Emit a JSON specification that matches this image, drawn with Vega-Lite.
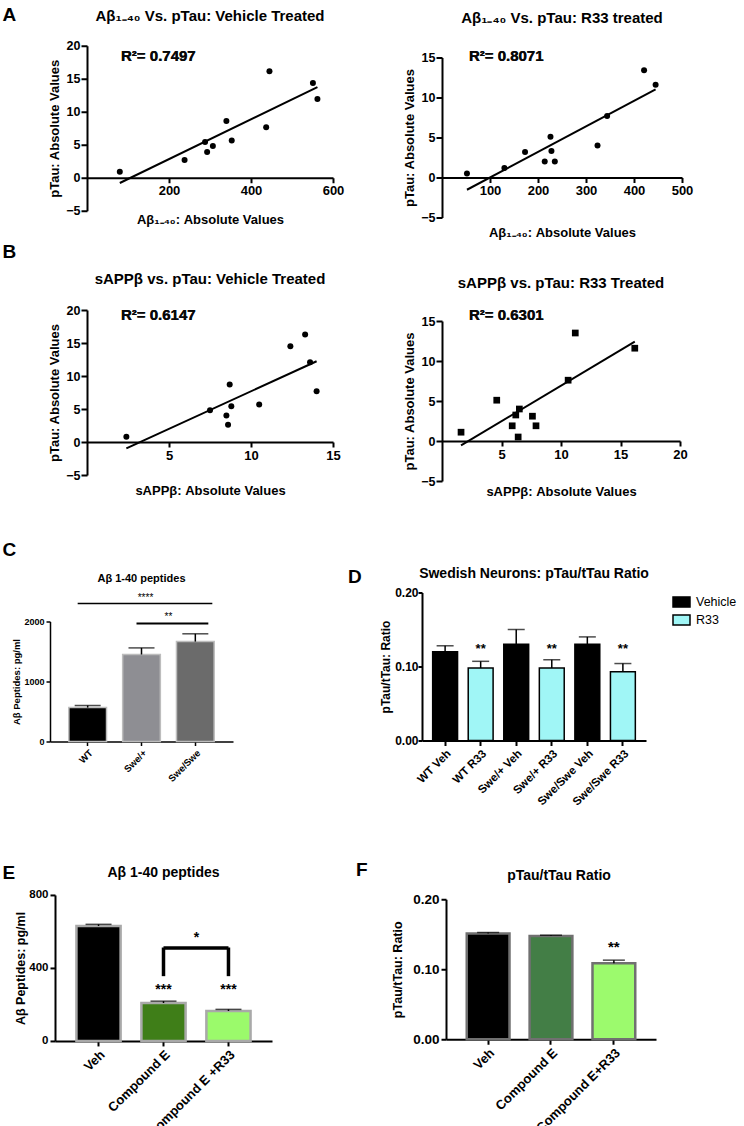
{
"$schema": "https://vega.github.io/schema/vega-lite/v6.json",
"background": "white",
"padding": {"left": 2, "top": 5, "right": 0, "bottom": 0},
"datasets": {
 "a1": [{"x":80,"y":0.9},{"x":238,"y":2.7},{"x":288,"y":5.4},{"x":293,"y":3.9},{"x":307,"y":4.8},{"x":340,"y":8.6},{"x":353,"y":5.65},{"x":437,"y":7.65},{"x":445,"y":16.15},{"x":551,"y":14.35},{"x":562,"y":11.95}],
 "a2": [{"x":52,"y":0.5},{"x":130,"y":1.2},{"x":173,"y":3.2},{"x":214,"y":2.0},{"x":226,"y":5.1},{"x":228,"y":3.3},{"x":235,"y":2.0},{"x":324,"y":4.0},{"x":344,"y":7.7},{"x":421,"y":13.4},{"x":445,"y":11.6}],
 "b1": [{"x":13.3,"y":16.3},{"x":12.4,"y":14.5},{"x":13.6,"y":12.1},{"x":8.7,"y":8.7},{"x":14.0,"y":7.7},{"x":10.5,"y":5.7},{"x":8.8,"y":5.4},{"x":7.5,"y":4.8},{"x":8.5,"y":4.0},{"x":8.6,"y":2.6},{"x":2.4,"y":0.8}],
 "b2": [{"x":11.2,"y":13.5},{"x":16.2,"y":11.6},{"x":10.6,"y":7.6},{"x":4.6,"y":5.1},{"x":6.5,"y":4.0},{"x":6.2,"y":3.25},{"x":7.6,"y":3.1},{"x":5.9,"y":1.9},{"x":7.9,"y":1.9},{"x":1.6,"y":1.1},{"x":6.4,"y":0.5}],
 "c": [{"g":"WT","v":565,"hi":600},{"g":"Swe/+","v":1450,"hi":1560},{"g":"Swe/Swe","v":1665,"hi":1795}],
 "d": [{"g":"WT Veh","t":"Vehicle","v":0.120,"hi":0.128,"sig":""},{"g":"WT R33","t":"R33","v":0.098,"hi":0.107,"sig":"**"},{"g":"Swe/+ Veh","t":"Vehicle","v":0.130,"hi":0.150,"sig":""},{"g":"Swe/+ R33","t":"R33","v":0.098,"hi":0.109,"sig":"**"},{"g":"Swe/Swe Veh","t":"Vehicle","v":0.130,"hi":0.140,"sig":""},{"g":"Swe/Swe R33","t":"R33","v":0.093,"hi":0.104,"sig":"**"}],
 "e": [{"g":"Veh","v":630,"hi":639,"sig":""},{"g":"Compound E","v":208,"hi":218,"sig":"***"},{"g":"Compound  E +R33","v":164,"hi":173,"sig":"***"}],
 "f": [{"g":"Veh","v":0.151,"hi":0.1525,"sig":""},{"g":"Compound E","v":0.1476,"hi":0.1486,"sig":""},{"g":"Compound E+R33","v":0.1086,"hi":0.113,"sig":"**"}]
},
"spacing": 42.5,
"resolve": {"scale": {"fill": "independent"}, "legend": {"fill": "independent"}},
"vconcat": [
 {"spacing": 2, "vconcat": [
  {"spacing": 31, "hconcat": [
   {"width": 1, "height": 1, "data": {"values": [{}]}, "mark": {"type": "text", "text": "A", "fontSize": 19, "fontWeight": "bold", "align": "left", "baseline": "alphabetic", "color": "#000"}},
   {"spacing": 59, "hconcat": [
    {"spacing": 15.75, "vconcat": [
     {"width": 246, "height": 1, "data": {"values": [{}]}, "mark": {"type": "text", "text": "Aβ₁₋₄₀ Vs. pTau: Vehicle Treated", "fontSize": 15, "fontWeight": "bold", "baseline": "alphabetic", "color": "#000"}},
     {"width": 246, "height": 165,
      "data": {"name": "a1"},
      "encoding": {
       "x": {"field": "x", "type": "quantitative", "scale": {"domain": [0, 600], "nice": false}, "axis": {"values": [200, 400, 600], "offset": -33, "title": "Aβ₁₋₄₀: Absolute Values", "titleFontSize": 13, "labelFontSize": 13, "titlePadding": 16, "tickSize": 5, "labelPadding": 2}},
       "y": {"field": "y", "type": "quantitative", "scale": {"domain": [-5, 20], "nice": false}, "axis": {"values": [-5, 0, 5, 10, 15, 20], "title": "pTau: Absolute Values", "titleFontSize": 13, "labelFontSize": 12.5, "titlePadding": 4, "tickSize": 6, "labelPadding": 1}}
      },
      "layer": [
       {"mark": {"type": "point", "filled": true, "color": "#000", "size": 36, "opacity": 1}},
       {"transform": [{"regression": "y", "on": "x"}], "mark": {"type": "line", "color": "#000", "strokeWidth": 2}},
       {"mark": {"type": "text", "fontSize": 15, "fontWeight": "bold", "align": "left", "baseline": "middle", "color": "#000", "opacity": 0.25}, "encoding": {"x": {"datum": 83}, "y": {"datum": 18.5}, "text": {"value": "R²= 0.7497"}}}
      ]}
    ]},
    {"spacing": 22.5, "vconcat": [
     {"width": 240, "height": 5, "data": {"values": [{}]}, "mark": {"type": "text", "text": "Aβ₁₋₄₀ Vs. pTau: R33 treated", "fontSize": 15, "fontWeight": "bold", "baseline": "alphabetic", "color": "#000"}},
     {"width": 240, "height": 160,
      "data": {"name": "a2"},
      "encoding": {
       "x": {"field": "x", "type": "quantitative", "scale": {"domain": [0, 500], "nice": false}, "axis": {"values": [100, 200, 300, 400, 500], "offset": -40, "title": "Aβ₁₋₄₀: Absolute Values", "titleFontSize": 13, "labelFontSize": 13, "titlePadding": 29, "tickSize": 5, "labelPadding": 2}},
       "y": {"field": "y", "type": "quantitative", "scale": {"domain": [-5, 15], "nice": false}, "axis": {"values": [-5, 0, 5, 10, 15], "title": "pTau: Absolute Values", "titleFontSize": 13, "labelFontSize": 12.5, "titlePadding": 4, "tickSize": 6, "labelPadding": 1}}
      },
      "layer": [
       {"mark": {"type": "point", "filled": true, "color": "#000", "size": 36, "opacity": 1}},
       {"transform": [{"regression": "y", "on": "x"}], "mark": {"type": "line", "color": "#000", "strokeWidth": 2}},
       {"mark": {"type": "text", "fontSize": 15, "fontWeight": "bold", "align": "left", "baseline": "middle", "color": "#000", "opacity": 0.25}, "encoding": {"x": {"datum": 56}, "y": {"datum": 15.25}, "text": {"value": "R²= 0.8071"}}}
      ]}
    ]}
   ]}
  ]},
  {"spacing": 31, "hconcat": [
   {"width": 1, "height": 1, "data": {"values": [{}]}, "mark": {"type": "text", "text": "B", "fontSize": 19, "fontWeight": "bold", "align": "left", "baseline": "alphabetic", "color": "#000"}},
   {"spacing": 62, "hconcat": [
    {"spacing": -6.75, "vconcat": [
     {"width": 246, "height": 53, "data": {"values": [{}]}, "mark": {"type": "text", "text": "sAPPβ vs. pTau: Vehicle Treated", "fontSize": 15, "fontWeight": "bold", "baseline": "alphabetic", "color": "#000"}},
     {"width": 246, "height": 165,
      "data": {"name": "b1"},
      "encoding": {
       "x": {"field": "x", "type": "quantitative", "scale": {"domain": [0, 15], "nice": false}, "axis": {"values": [5, 10, 15], "offset": -33, "title": "sAPPβ: Absolute Values", "titleFontSize": 13, "labelFontSize": 13, "titlePadding": 22, "tickSize": 5, "labelPadding": 2}},
       "y": {"field": "y", "type": "quantitative", "scale": {"domain": [-5, 20], "nice": false}, "axis": {"values": [-5, 0, 5, 10, 15, 20], "title": "pTau: Absolute Values", "titleFontSize": 13, "labelFontSize": 12.5, "titlePadding": 4, "tickSize": 6, "labelPadding": 1}}
      },
      "layer": [
       {"mark": {"type": "point", "filled": true, "color": "#000", "size": 36, "opacity": 1}},
       {"transform": [{"regression": "y", "on": "x"}], "mark": {"type": "line", "color": "#000", "strokeWidth": 2}},
       {"mark": {"type": "text", "fontSize": 15, "fontWeight": "bold", "align": "left", "baseline": "middle", "color": "#000", "opacity": 0.25}, "encoding": {"x": {"datum": 2.07}, "y": {"datum": 19.2}, "text": {"value": "R²= 0.6147"}}}
      ]}
    ]},
    {"spacing": -12, "vconcat": [
     {"width": 238, "height": 62, "data": {"values": [{}]}, "mark": {"type": "text", "text": "sAPPβ vs. pTau: R33 Treated", "fontSize": 15, "fontWeight": "bold", "baseline": "alphabetic", "color": "#000"}},
     {"width": 238, "height": 160,
      "data": {"name": "b2"},
      "encoding": {
       "x": {"field": "x", "type": "quantitative", "scale": {"domain": [0, 20], "nice": false}, "axis": {"values": [5, 10, 15, 20], "offset": -40, "title": "sAPPβ: Absolute Values", "titleFontSize": 13, "labelFontSize": 13, "titlePadding": 24, "tickSize": 5, "labelPadding": 2}},
       "y": {"field": "y", "type": "quantitative", "scale": {"domain": [-5, 15], "nice": false}, "axis": {"values": [-5, 0, 5, 10, 15], "title": "pTau: Absolute Values", "titleFontSize": 13, "labelFontSize": 12.5, "titlePadding": 4, "tickSize": 6, "labelPadding": 1}}
      },
      "layer": [
       {"mark": {"type": "point", "shape": "square", "filled": true, "color": "#000", "size": 45, "opacity": 1}},
       {"transform": [{"regression": "y", "on": "x"}], "mark": {"type": "line", "color": "#000", "strokeWidth": 2}},
       {"mark": {"type": "text", "fontSize": 15, "fontWeight": "bold", "align": "left", "baseline": "middle", "color": "#000", "opacity": 0.25}, "encoding": {"x": {"datum": 2.27}, "y": {"datum": 15.75}, "text": {"value": "R²= 0.6301"}}}
      ]}
    ]}
   ]}
  ]}
 ]},
 {"spacing": 52,
  "resolve": {"scale": {"fill": "independent"}, "legend": {"fill": "independent"}},
  "vconcat": [
  {"spacing": -6,
   "resolve": {"scale": {"fill": "independent"}, "legend": {"fill": "independent"}},
   "hconcat": [
   {"width": 1, "height": 1, "data": {"values": [{}]}, "mark": {"type": "text", "text": "C", "fontSize": 19, "fontWeight": "bold", "align": "left", "baseline": "alphabetic", "color": "#000"}},
   {"spacing": 114.5,
    "resolve": {"scale": {"fill": "independent"}, "legend": {"fill": "independent"}},
    "hconcat": [
    {"spacing": -17,
     "resolve": {"scale": {"fill": "independent"}, "legend": {"fill": "independent"}},
     "vconcat": [
     {"width": 183, "height": 53, "data": {"values": [{}]}, "mark": {"type": "text", "text": "Aβ 1-40 peptides", "fontSize": 11, "fontWeight": "bold", "baseline": "alphabetic", "color": "#000"}},
     {"width": 183, "height": 120,
      "data": {"name": "c"},
      "encoding": {"x": {"field": "g", "type": "nominal", "sort": null, "scale": {"domain": ["WT", "Swe/+", "Swe/Swe"], "paddingInner": 0.3, "paddingOuter": 0.35}, "axis": {"title": null, "labelAngle": -45, "labelFontSize": 9.5, "tickSize": 4, "domainWidth": 1.5, "tickWidth": 1.5, "labelPadding": 2}}},
      "layer": [
       {"mark": {"type": "bar", "stroke": "#bdbdbd", "strokeWidth": 1.5}, "encoding": {"y": {"field": "v", "type": "quantitative", "scale": {"domain": [0, 2000], "nice": false}, "axis": {"values": [0, 500, 1000, 1500, 2000], "format": "d", "title": "Aβ Peptides: pg/ml", "titleFontSize": 9.5, "labelFontSize": 9, "domainWidth": 1.5, "tickWidth": 1.5, "tickSize": 4, "titlePadding": 2}}, "fill": {"field": "g", "type": "nominal", "scale": {"domain": ["WT", "Swe/+", "Swe/Swe"], "range": ["#000000", "#8e8e93", "#6b6b6b"]}, "legend": null}}},
       {"mark": {"type": "rule", "color": "#000", "strokeWidth": 1.5}, "encoding": {"y": {"field": "v", "type": "quantitative"}, "y2": {"field": "hi"}}},
       {"mark": {"type": "tick", "color": "#000", "thickness": 1.5, "size": 26}, "encoding": {"y": {"field": "hi", "type": "quantitative"}}},
       {"data": {"values": [{"a": "WT", "b": "Swe/Swe", "y": 2300}]}, "mark": {"type": "rule", "color": "#000", "strokeWidth": 1.5, "xOffset": -10, "x2Offset": 17}, "encoding": {"x": {"field": "a", "type": "nominal"}, "x2": {"field": "b"}, "y": {"field": "y", "type": "quantitative"}}},
       {"data": {"values": [{"a": "Swe/+", "b": "Swe/Swe", "y": 1967}]}, "mark": {"type": "rule", "color": "#000", "strokeWidth": 2, "xOffset": -5, "x2Offset": 13}, "encoding": {"x": {"field": "a", "type": "nominal"}, "x2": {"field": "b"}, "y": {"field": "y", "type": "quantitative"}}},
       {"data": {"values": [{"a": "Swe/+", "y": 2350, "s": "****"}]}, "mark": {"type": "text", "fontSize": 10, "color": "#000", "dx": 4, "baseline": "alphabetic"}, "encoding": {"x": {"field": "a", "type": "nominal"}, "y": {"field": "y", "type": "quantitative"}, "text": {"field": "s"}}},
       {"data": {"values": [{"a": "Swe/+", "y": 2017, "s": "**"}]}, "mark": {"type": "text", "fontSize": 10, "color": "#000", "dx": 27, "baseline": "alphabetic"}, "encoding": {"x": {"field": "a", "type": "nominal"}, "y": {"field": "y", "type": "quantitative"}, "text": {"field": "s"}}}
      ]}
    ]},
    {"spacing": 16.5,
     "resolve": {"scale": {"fill": "independent"}, "legend": {"fill": "independent"}},
     "hconcat": [
     {"width": 1, "height": 55, "data": {"values": [{}]}, "mark": {"type": "text", "text": "D", "fontSize": 19, "fontWeight": "bold", "align": "left", "baseline": "alphabetic", "color": "#000"}},
     {"spacing": -6,
      "resolve": {"scale": {"fill": "independent"}, "legend": {"fill": "independent"}},
      "vconcat": [
      {"width": 224, "height": 36.5, "data": {"values": [{}]}, "mark": {"type": "text", "text": "Swedish Neurons: pTau/tTau Ratio", "fontSize": 14, "fontWeight": "bold", "baseline": "middle", "color": "#000"}},
      {"width": 224, "height": 148,
       "data": {"name": "d"},
       "encoding": {"x": {"field": "g", "type": "nominal", "sort": null, "scale": {"domain": ["WT Veh", "WT R33", "Swe/+ Veh", "Swe/+ R33", "Swe/Swe Veh", "Swe/Swe R33"], "paddingInner": 0.3, "paddingOuter": 0.3}, "axis": {"title": null, "labelAngle": -45, "labelFontSize": 11.5, "tickSize": 5, "labelPadding": 2}}},
       "layer": [
        {"mark": {"type": "bar", "stroke": "#000", "strokeWidth": 1.5}, "encoding": {"y": {"field": "v", "type": "quantitative", "scale": {"domain": [0, 0.2], "nice": false}, "axis": {"values": [0, 0.05, 0.1, 0.15, 0.2], "format": ".2f", "title": "pTau/tTau: Ratio", "titleFontSize": 12, "labelFontSize": 12, "tickSize": 4, "labelPadding": 0, "titlePadding": 2}}, "fill": {"field": "t", "type": "nominal", "scale": {"domain": ["Vehicle", "R33"], "range": ["#000000", "#a0f6f6"]}, "legend": {"title": null, "orient": "right", "offset": 26, "symbolType": "M-1,-0.6H1V0.6H-1Z", "symbolSize": 289, "symbolStrokeColor": "#000", "symbolStrokeWidth": 1.5, "labelFontSize": 12.5, "labelColor": "#000", "labelFont": "Liberation Sans", "rowPadding": 0, "labelOffset": 5}}}},
        {"mark": {"type": "rule", "color": "#000", "strokeWidth": 1.5}, "encoding": {"y": {"field": "v", "type": "quantitative"}, "y2": {"field": "hi"}}},
        {"mark": {"type": "tick", "color": "#000", "thickness": 1.5, "size": 17}, "encoding": {"y": {"field": "hi", "type": "quantitative"}}},
        {"mark": {"type": "text", "fontSize": 13, "fontWeight": "bold", "color": "#000", "baseline": "alphabetic"}, "encoding": {"y": {"datum": 0.118}, "text": {"field": "sig"}}}
       ]}
     ]}
    ]}
   ]}
  ]},
  {"spacing": -2,
   "resolve": {"scale": {"fill": "independent"}, "legend": {"fill": "independent"}},
   "hconcat": [
   {"width": 1, "height": 7, "data": {"values": [{}]}, "mark": {"type": "text", "text": "E", "fontSize": 19, "fontWeight": "bold", "align": "left", "baseline": "alphabetic", "color": "#000"}},
   {"spacing": 83.5,
    "resolve": {"scale": {"fill": "independent"}, "legend": {"fill": "independent"}},
    "hconcat": [
    {"spacing": 8.45,
     "resolve": {"scale": {"fill": "independent"}, "legend": {"fill": "independent"}},
     "vconcat": [
     {"width": 217, "height": 3, "data": {"values": [{}]}, "mark": {"type": "text", "text": "Aβ 1-40 peptides", "fontSize": 14, "fontWeight": "bold", "baseline": "alphabetic", "color": "#000"}},
     {"width": 217, "height": 146,
      "data": {"name": "e"},
      "encoding": {"x": {"field": "g", "type": "nominal", "sort": null, "scale": {"domain": ["Veh", "Compound E", "Compound  E +R33"], "paddingInner": 0.32, "paddingOuter": 0.33}, "axis": {"title": null, "labelAngle": -45, "labelFontSize": 13, "tickSize": 5, "labelPadding": 2}}},
      "layer": [
       {"mark": {"type": "bar", "stroke": "#a9a9a9", "strokeWidth": 2.5}, "encoding": {"y": {"field": "v", "type": "quantitative", "scale": {"domain": [0, 800], "nice": false}, "axis": {"values": [0, 200, 400, 600, 800], "title": "Aβ Peptides: pg/ml", "titleFontSize": 12.5, "labelFontSize": 11.5, "tickSize": 5, "titlePadding": 1}}, "fill": {"field": "g", "type": "nominal", "scale": {"domain": ["Veh", "Compound E", "Compound  E +R33"], "range": ["#000000", "#3f7e18", "#9bfa6b"]}, "legend": null}}},
       {"mark": {"type": "rule", "color": "#000", "strokeWidth": 1.5}, "encoding": {"y": {"field": "v", "type": "quantitative"}, "y2": {"field": "hi"}}},
       {"mark": {"type": "tick", "color": "#000", "thickness": 1.5, "size": 26}, "encoding": {"y": {"field": "hi", "type": "quantitative"}}},
       {"mark": {"type": "text", "fontSize": 14, "fontWeight": "bold", "color": "#000", "baseline": "alphabetic"}, "encoding": {"y": {"datum": 257}, "text": {"field": "sig"}}},
       {"data": {"values": [{"a": "Compound E", "lo": 355, "hi": 512}, {"a": "Compound  E +R33", "lo": 355, "hi": 512}]}, "mark": {"type": "rule", "color": "#000", "strokeWidth": 3.5}, "encoding": {"x": {"field": "a", "type": "nominal"}, "y": {"field": "lo", "type": "quantitative"}, "y2": {"field": "hi"}}},
       {"data": {"values": [{"a": "Compound E", "b": "Compound  E +R33", "y": 510}]}, "mark": {"type": "rule", "color": "#000", "strokeWidth": 3.5}, "encoding": {"x": {"field": "a", "type": "nominal"}, "x2": {"field": "b"}, "y": {"field": "y", "type": "quantitative"}}},
       {"data": {"values": [{"a": "Compound E", "y": 540, "s": "*"}]}, "mark": {"type": "text", "fontSize": 14, "fontWeight": "bold", "color": "#000", "dx": 33, "baseline": "alphabetic"}, "encoding": {"x": {"field": "a", "type": "nominal"}, "y": {"field": "y", "type": "quantitative"}, "text": {"field": "s"}}}
      ]}
    ]},
    {"spacing": 22.5,
     "resolve": {"scale": {"fill": "independent"}, "legend": {"fill": "independent"}},
     "hconcat": [
     {"width": 1, "height": 1, "data": {"values": [{}]}, "mark": {"type": "text", "text": "F", "fontSize": 19, "fontWeight": "bold", "align": "left", "baseline": "alphabetic", "color": "#000"}},
     {"spacing": 7.75,
      "resolve": {"scale": {"fill": "independent"}, "legend": {"fill": "independent"}},
      "vconcat": [
      {"width": 226, "height": 9, "data": {"values": [{}]}, "mark": {"type": "text", "text": "pTau/tTau Ratio", "fontSize": 14, "fontWeight": "bold", "baseline": "alphabetic", "color": "#000"}},
      {"width": 210, "height": 140,
       "data": {"name": "f"},
       "encoding": {"x": {"field": "g", "type": "nominal", "sort": null, "scale": {"domain": ["Veh", "Compound E", "Compound E+R33"], "paddingInner": 0.32, "paddingOuter": 0.33}, "axis": {"title": null, "labelAngle": -45, "labelFontSize": 13, "tickSize": 5, "labelPadding": 2}}},
       "layer": [
        {"mark": {"type": "bar", "stroke": "#707070", "strokeWidth": 2.5}, "encoding": {"y": {"field": "v", "type": "quantitative", "scale": {"domain": [0, 0.2], "nice": false}, "axis": {"values": [0, 0.05, 0.1, 0.15, 0.2], "format": ".2f", "title": "pTau/tTau: Ratio", "titleFontSize": 12.5, "labelFontSize": 13.5, "tickSize": 5, "titlePadding": 8}}, "fill": {"field": "g", "type": "nominal", "scale": {"domain": ["Veh", "Compound E", "Compound E+R33"], "range": ["#000000", "#437e46", "#9cfa6d"]}, "legend": null}}},
        {"mark": {"type": "rule", "color": "#000", "strokeWidth": 1.5}, "encoding": {"y": {"field": "v", "type": "quantitative"}, "y2": {"field": "hi"}}},
        {"mark": {"type": "tick", "color": "#000", "thickness": 1.5, "size": 22}, "encoding": {"y": {"field": "hi", "type": "quantitative"}}},
        {"mark": {"type": "text", "fontSize": 15, "fontWeight": "bold", "color": "#000", "baseline": "alphabetic"}, "encoding": {"y": {"datum": 0.124}, "text": {"field": "sig"}}}
       ]}
     ]}
    ]}
   ]}
  ]}
 ]}
],
"config": {
 "font": "Liberation Sans",
 "view": {"stroke": null},
 "axis": {"grid": false, "domainColor": "#000", "tickColor": "#000", "labelColor": "#000", "titleColor": "#000", "labelFontWeight": "bold", "titleFontWeight": "bold", "domainWidth": 2, "tickWidth": 2, "labelFont": "Liberation Sans", "titleFont": "Liberation Sans", "labelFlush": false},
 "title": {"fontWeight": "bold", "color": "#000", "font": "Liberation Sans"}
}
}
